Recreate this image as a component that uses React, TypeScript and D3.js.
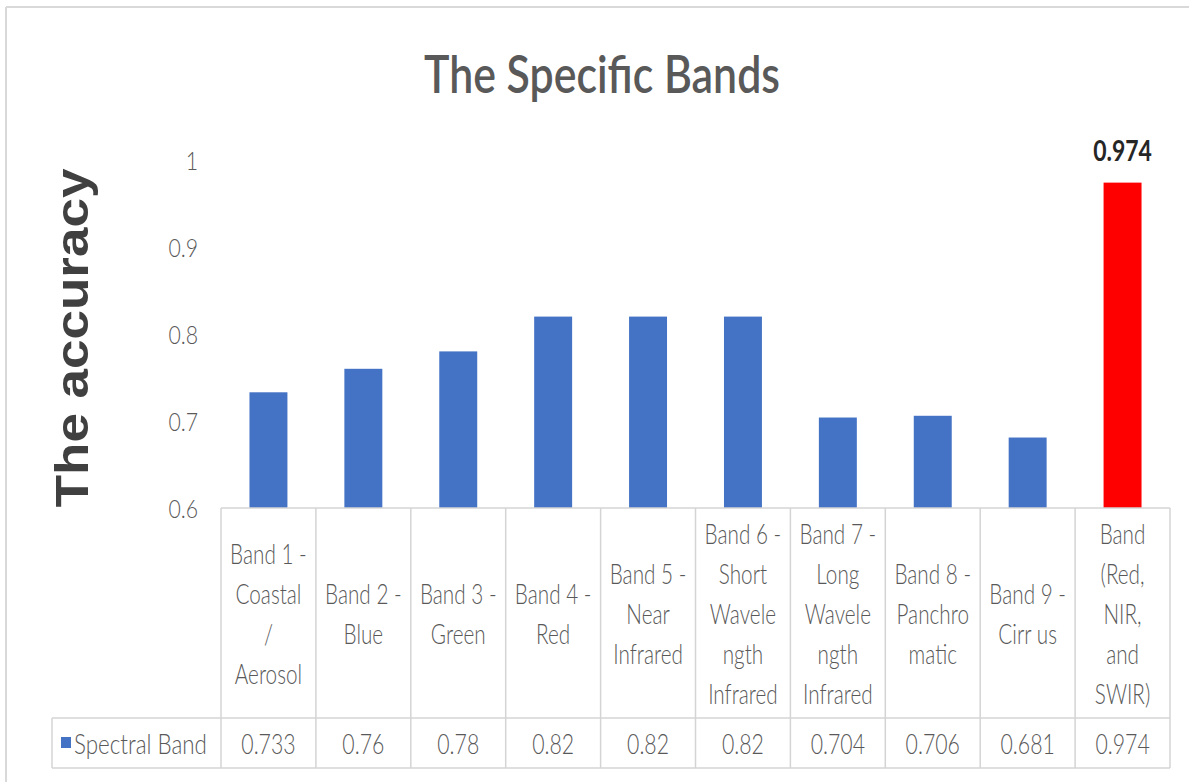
import React from "react";
import * as d3 from "d3";

const title = "The Specific Bands";
const yAxisTitle = "The accuracy";
const seriesName = "Spectral Band";
const categories: string[][] = [
  ["Band 1 -", "Coastal", "/", "Aerosol"],
  ["Band 2 -", "Blue"],
  ["Band 3 -", "Green"],
  ["Band 4 -", "Red"],
  ["Band 5 -", "Near", "Infrared"],
  ["Band 6 -", "Short", "Wavele", "ngth", "Infrared"],
  ["Band 7 -", "Long", "Wavele", "ngth", "Infrared"],
  ["Band 8 -", "Panchro", "matic"],
  ["Band 9 -", "Cirr us"],
  ["Band", "(Red,", "NIR,", "and", "SWIR)"],
];
const values: number[] = [0.733, 0.76, 0.78, 0.82, 0.82, 0.82, 0.704, 0.706, 0.681, 0.974];
const valueLabels: string[] = ["0.733", "0.76", "0.78", "0.82", "0.82", "0.82", "0.704", "0.706", "0.681", "0.974"];
const highlightIndex = 9;
const yTicks: number[] = [0.6, 0.7, 0.8, 0.9, 1];
const yTickLabels: string[] = ["0.6", "0.7", "0.8", "0.9", "1"];

const W = 1189;
const H = 782;
const plotLeft = 221;
const plotRight = 1170;
const plotTop = 160;
const plotBottom = 508;
const rowTop = 718;
const rowBottom = 768;
const legendLeft = 52;
const gridColor = "#d4d4d4";
const textColor = "#595959";
const FONT = "Lato, 'Open Sans', sans-serif";

export default function App() {
  const idx = categories.map((_, i) => String(i));
  const x = d3.scaleBand<string>().domain(idx).range([plotLeft, plotRight]).paddingInner(0.6).paddingOuter(0.3);
  const y = d3.scaleLinear().domain([0.6, 1]).range([plotBottom, plotTop]);
  const step = x.step();
  const cellLeft = (i: number) => plotLeft + i * step;
  const headerMid = (plotBottom + rowTop) / 2;
  const lineH = 40;
  const sx = 0.74;

  return (
    <svg width={W} height={H} style={{ position: "absolute", left: 0, top: 0, background: "#fff" }}>
      <rect x={0} y={0} width={W} height={H} fill="#fff" />
      <line x1={6} y1={7} x2={W} y2={7} stroke="#d9d9d9" strokeWidth={2} />
      <line x1={6} y1={7} x2={6} y2={H} stroke="#d9d9d9" strokeWidth={2} />

      <text
        transform={`translate(${602},${93}) scale(0.84,1)`}
        textAnchor="middle"
        fontFamily={FONT}
        fontWeight={600}
        fontSize={51}
        fill="#595959"
      >
        {title}
      </text>

      <text
        transform={`translate(${88},${338}) rotate(-90) scale(1,0.88)`}
        textAnchor="middle"
        fontFamily="'Liberation Sans', Arial, sans-serif"
        fontWeight={700}
        fontSize={53}
        fill="#404040"
      >
        {yAxisTitle}
      </text>

      {yTicks.map((t, i) => (
        <text
          key={"yt" + i}
          transform={`translate(${198},${y(t)}) scale(0.85,1)`}
          textAnchor="end"
          dominantBaseline="central"
          fontFamily={FONT}
          fontWeight={300}
          fontSize={25}
          fill={textColor}
        >
          {yTickLabels[i]}
        </text>
      ))}

      {values.map((v, i) => (
        <rect
          key={"b" + i}
          x={x(String(i))}
          y={y(v)}
          width={x.bandwidth()}
          height={y(0.6) - y(v)}
          fill={i === highlightIndex ? "#ff0000" : "#4472c4"}
        />
      ))}

      <text
        transform={`translate(${(x(String(highlightIndex)) as number) + x.bandwidth() / 2},${y(values[highlightIndex]) - 33}) scale(0.82,1)`}
        textAnchor="middle"
        dominantBaseline="central"
        fontFamily={FONT}
        fontWeight={700}
        fontSize={28}
        fill="#262626"
      >
        {valueLabels[highlightIndex]}
      </text>

      <line x1={plotLeft} y1={plotBottom} x2={plotRight} y2={plotBottom} stroke={gridColor} strokeWidth={1.5} />
      <line x1={legendLeft} y1={rowTop} x2={plotRight} y2={rowTop} stroke={gridColor} strokeWidth={1.5} />
      <line x1={legendLeft} y1={rowBottom} x2={plotRight} y2={rowBottom} stroke={gridColor} strokeWidth={1.5} />
      <line x1={legendLeft} y1={rowTop} x2={legendLeft} y2={rowBottom} stroke={gridColor} strokeWidth={1.5} />
      {d3.range(categories.length + 1).map((i) => (
        <line
          key={"v" + i}
          x1={cellLeft(i)}
          y1={plotBottom}
          x2={cellLeft(i)}
          y2={rowBottom}
          stroke={gridColor}
          strokeWidth={1.5}
        />
      ))}

      {categories.map((lines, i) => {
        const cx = cellLeft(i) + step / 2;
        const start = headerMid - ((lines.length - 1) * lineH) / 2;
        return lines.map((ln, j) => (
          <text
            key={"c" + i + "-" + j}
            transform={`translate(${cx},${start + j * lineH}) scale(${sx},1)`}
            textAnchor="middle"
            dominantBaseline="central"
            fontFamily={FONT}
            fontWeight={300}
            fontSize={28}
            fill={textColor}
          >
            {ln}
          </text>
        ));
      })}

      {valueLabels.map((v, i) => (
        <text
          key={"val" + i}
          transform={`translate(${cellLeft(i) + step / 2},${(rowTop + rowBottom) / 2}) scale(0.76,1)`}
          textAnchor="middle"
          dominantBaseline="central"
          fontFamily={FONT}
          fontWeight={300}
          fontSize={28}
          fill={textColor}
        >
          {v}
        </text>
      ))}

      <rect x={61} y={737} width={10} height={11} fill="#4472c4" />
      <text
        transform={`translate(${74},${(rowTop + rowBottom) / 2}) scale(0.8,1)`}
        dominantBaseline="central"
        fontFamily={FONT}
        fontWeight={300}
        fontSize={28}
        fill={textColor}
      >
        {seriesName}
      </text>
    </svg>
  );
}
